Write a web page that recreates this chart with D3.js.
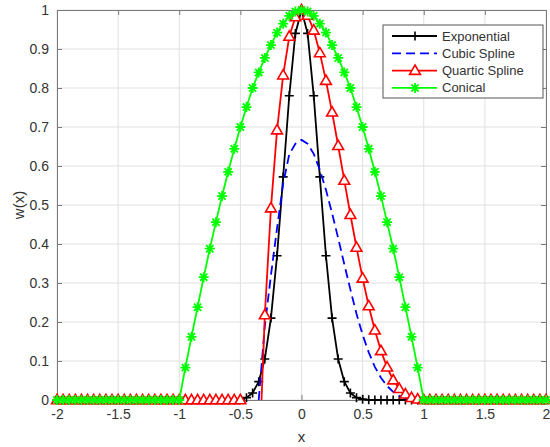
<!DOCTYPE html>
<html>
<head>
<meta charset="utf-8">
<script src="https://cdn.jsdelivr.net/npm/d3@7"></script>
<style>
  body { margin: 0; background: #fff; }
  svg { display: block; font-family: "Liberation Sans", Arial, sans-serif; }
</style>
</head>
<body>
<svg id="chart" width="550" height="447"></svg>
<script>
// sample positions
const xs = [
  -2, -1.95, -1.9, -1.85, -1.8, -1.75, -1.7, -1.65, -1.6, -1.55,
  -1.5, -1.45, -1.4, -1.35, -1.3, -1.25, -1.2, -1.15, -1.1, -1.05,
  -1, -0.95, -0.9, -0.85, -0.8, -0.75, -0.7, -0.65, -0.6, -0.55,
  -0.5, -0.45, -0.4, -0.35, -0.3, -0.25, -0.2, -0.15, -0.1, -0.05,
  0,
  0.05, 0.1, 0.15, 0.2, 0.25, 0.3, 0.35, 0.4, 0.45, 0.5,
  0.55, 0.6, 0.65, 0.7, 0.75, 0.8, 0.85, 0.9, 0.95, 1,
  1.05, 1.1, 1.15, 1.2, 1.25, 1.3, 1.35, 1.4, 1.45, 1.5,
  1.55, 1.6, 1.65, 1.7, 1.75, 1.8, 1.85, 1.9, 1.95, 2
];

const exponentialY = [
  0, 0, 0, 0, 0, 0, 0, 0, 0, 0,
  0, 0, 0, 0, 0, 0, 0, 0, 0, 0,
  0, 0, 0, 0, 0, 0, 0, 0, 0, 0.0005,
  0.002, 0.006, 0.018, 0.047, 0.105, 0.21, 0.37, 0.572, 0.78, 0.94,
  1,
  0.94, 0.78, 0.572, 0.37, 0.21, 0.105, 0.047, 0.018, 0.006, 0.002,
  0.0005, 0, 0, 0, 0, 0, 0, 0, 0, 0,
  0, 0, 0, 0, 0, 0, 0, 0, 0, 0,
  0, 0, 0, 0, 0, 0, 0, 0, 0, 0
];

const cubicY = [
  null, null, null, null, null, null, null, null, null, null,
  null, null, null, null, null, null, null, null, null, null,
  null, null, null, null, null, null, null, null, null, null,
  null, null, null, 0, 0.19, 0.32, 0.44, 0.555, 0.63, 0.657,
  0.667,
  0.657, 0.631, 0.59, 0.539, 0.479, 0.415, 0.348, 0.283, 0.221, 0.167,
  0.122, 0.085, 0.057, 0.036, 0.021, 0.011, 0.0045, 0.0013, 0.0002, 0,
  0, 0, 0, 0, 0, 0, 0, 0, 0, 0,
  0, 0, 0, 0, 0, 0, 0, 0, 0, 0
];

const quarticY = [
  0, 0, 0, 0, 0, 0, 0, 0, 0, 0,
  0, 0, 0, 0, 0, 0, 0, 0, 0, 0,
  0, 0, 0, 0, 0, 0, 0, 0, 0, 0,
  0, null, null, null, 0.218, 0.492, 0.692, 0.833, 0.932, 0.982,
  1,
  0.986, 0.948, 0.89, 0.819, 0.738, 0.652, 0.563, 0.475, 0.391, 0.312,
  0.241, 0.179, 0.126, 0.084, 0.051, 0.029, 0.015, 0.006, 0.002, 0,
  0, 0, 0, 0, 0, 0, 0, 0, 0, 0,
  0, 0, 0, 0, 0, 0, 0, 0, 0, 0
];
// where the left flank of the quartic meets the axis (no marker there)
const quarticFoot = -0.327;

const conicalY = [
  0, 0, 0, 0, 0, 0, 0, 0, 0, 0,
  0, 0, 0, 0, 0, 0, 0, 0, 0, 0,
  0, 0.083, 0.162, 0.238, 0.315, 0.388, 0.456, 0.523, 0.585, 0.644,
  0.7, 0.751, 0.8, 0.84, 0.877, 0.91, 0.942, 0.965, 0.985, 0.996,
  1,
  0.996, 0.985, 0.965, 0.942, 0.91, 0.877, 0.84, 0.8, 0.751, 0.7,
  0.644, 0.585, 0.523, 0.456, 0.388, 0.315, 0.238, 0.162, 0.083, 0,
  0, 0, 0, 0, 0, 0, 0, 0, 0, 0,
  0, 0, 0, 0, 0, 0, 0, 0, 0, 0
];

const seriesNames = ["Exponential", "Cubic Spline", "Quartic Spline", "Conical"];
const xTicks = [-2, -1.5, -1, -0.5, 0, 0.5, 1, 1.5, 2];
const xTickLabels = ["-2", "-1.5", "-1", "-0.5", "0", "0.5", "1", "1.5", "2"];
const yTicks = [0, 0.1, 0.2, 0.3, 0.4, 0.5, 0.6, 0.7, 0.8, 0.9, 1];
const yTickLabels = ["0", "0.1", "0.2", "0.3", "0.4", "0.5", "0.6", "0.7", "0.8", "0.9", "1"];

const svg = d3.select("#chart");
const plot = { left: 57, right: 546, top: 10, bottom: 400 };

const x = d3.scaleLinear().domain([-2, 2]).range([plot.left, plot.right]);
const y = d3.scaleLinear().domain([0, 1]).range([plot.bottom, plot.top]);

const axisColor = "#7a7a7a";
const textColor = "#333333";

// grid
const grid = svg.append("g");
grid.selectAll("line.gx").data(xTicks).enter().append("line")
  .attr("x1", d => x(d)).attr("x2", d => x(d))
  .attr("y1", plot.top).attr("y2", plot.bottom)
  .attr("stroke", "#e0e0e0").attr("stroke-width", 1);
grid.selectAll("line.gy").data(yTicks).enter().append("line")
  .attr("x1", plot.left).attr("x2", plot.right)
  .attr("y1", d => y(d)).attr("y2", d => y(d))
  .attr("stroke", "#e0e0e0").attr("stroke-width", 1);

// axes (ticks inside, box on)
const tickLen = 5;
const xAxis = d3.axisBottom(x).tickValues(xTicks).tickSize(-tickLen).tickPadding(9)
  .tickFormat((d, i) => xTickLabels[i]);
const yAxis = d3.axisLeft(y).tickValues(yTicks).tickSize(-tickLen).tickPadding(8)
  .tickFormat((d, i) => yTickLabels[i]);
const xTop = d3.axisTop(x).tickValues(xTicks).tickSize(-tickLen).tickFormat("");
const yRight = d3.axisRight(y).tickValues(yTicks).tickSize(-tickLen).tickFormat("");

function styleAxis(g) {
  g.select(".domain").attr("stroke", axisColor).attr("stroke-width", 1);
  g.selectAll(".tick line").attr("stroke", axisColor).attr("stroke-width", 1);
  g.selectAll(".tick text").attr("fill", textColor).style("font-size", "14px")
    .style("font-family", "'Liberation Sans', Arial, sans-serif");
}

svg.append("g").attr("transform", `translate(0,${plot.bottom})`).call(xAxis).call(styleAxis);
svg.append("g").attr("transform", `translate(${plot.left},0)`).call(yAxis).call(styleAxis);
svg.append("g").attr("transform", `translate(0,${plot.top})`).call(xTop).call(styleAxis);
svg.append("g").attr("transform", `translate(${plot.right},0)`).call(yRight).call(styleAxis);

// axis labels
svg.append("text")
  .attr("x", x(0)).attr("y", 442)
  .attr("text-anchor", "middle").attr("fill", textColor)
  .style("font-size", "15px").text("x");
svg.append("text")
  .attr("transform", `translate(24,${(plot.top + plot.bottom) / 2}) rotate(-90)`)
  .attr("text-anchor", "middle").attr("fill", textColor)
  .style("font-size", "15px").text("w(x)");

// markers
const markerPaths = {
  plus: "M-4.5,0H4.5M0,-4.5V4.5",
  triangle: "M0,-5.6L5.4,3.8L-5.4,3.8Z",
  star: "M-5,0H5M0,-5V5M-3.6,-3.6L3.6,3.6M-3.6,3.6L3.6,-3.6",
  none: null
};

const series = [
  { name: seriesNames[0], ys: exponentialY, color: "#000000", dash: null, marker: "plus", width: 1.8 },
  { name: seriesNames[1], ys: cubicY, color: "#0000ff", dash: "9,5", marker: "none", width: 1.8 },
  { name: seriesNames[2], ys: quarticY, color: "#ff0000", dash: null, marker: "triangle", width: 1.8, foot: quarticFoot },
  { name: seriesNames[3], ys: conicalY, color: "#00ff00", dash: null, marker: "star", width: 1.8 }
];

const line = d3.line()
  .defined(d => d.y != null)
  .x(d => x(d.x))
  .y(d => y(d.y));

series.forEach(s => {
  let pts = xs.map((xv, i) => ({ x: xv, y: s.ys[i], mark: true }));
  if (s.foot !== undefined) {
    const at = pts.findIndex(p => p.x > s.foot);
    pts.splice(at, 0, { x: s.foot, y: 0, mark: false });
  }
  const g = svg.append("g");
  g.append("path")
    .datum(pts)
    .attr("d", line)
    .attr("fill", "none")
    .attr("stroke", s.color)
    .attr("stroke-width", s.width)
    .attr("stroke-dasharray", s.dash)
    .attr("stroke-linejoin", "round");
  if (markerPaths[s.marker]) {
    g.selectAll("path.mk")
      .data(pts.filter(p => p.y != null && p.mark))
      .enter().append("path")
      .attr("class", "mk")
      .attr("transform", p => `translate(${x(p.x)},${y(p.y)})`)
      .attr("d", markerPaths[s.marker])
      .attr("fill", s.marker === "triangle" ? "#ffffff" : "none")
      .attr("stroke", s.color)
      .attr("stroke-width", s.marker === "star" ? 1.8 : 1.6);
  }
});

// legend
const legend = svg.append("g").attr("transform", "translate(383,25)");
legend.append("rect")
  .attr("width", 160).attr("height", 73)
  .attr("fill", "#ffffff").attr("stroke", "#555555").attr("stroke-width", 1);
series.forEach((s, i) => {
  const cy = 11 + i * 17.3;
  legend.append("line")
    .attr("x1", 9).attr("x2", 54).attr("y1", cy).attr("y2", cy)
    .attr("stroke", s.color).attr("stroke-width", s.width)
    .attr("stroke-dasharray", s.dash);
  if (markerPaths[s.marker]) {
    legend.append("path")
      .attr("transform", `translate(32,${cy})`)
      .attr("d", markerPaths[s.marker])
      .attr("fill", s.marker === "triangle" ? "#ffffff" : "none")
      .attr("stroke", s.color).attr("stroke-width", s.marker === "star" ? 1.8 : 1.6);
  }
  legend.append("text")
    .attr("x", 59).attr("y", cy + 4.5)
    .attr("fill", textColor).style("font-size", "13px")
    .text(s.name);
});
</script>
</body>
</html>
